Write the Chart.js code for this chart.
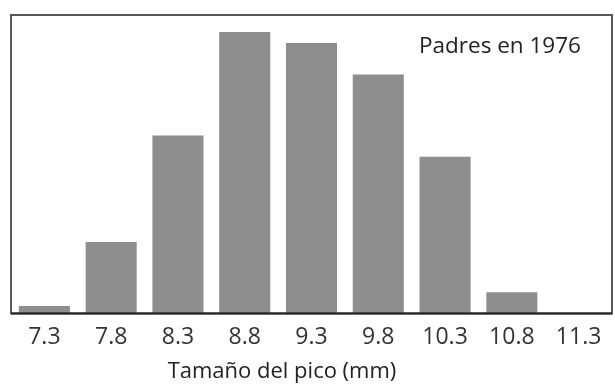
<!DOCTYPE html>
<html>
<head>
<meta charset="utf-8">
<script src="https://cdn.jsdelivr.net/npm/chart.js@4"></script>
<style>
  html, body { margin: 0; padding: 0; background: #fff; }
  #wrap { width: 615px; height: 386px; }
</style>
</head>
<body>
<div id="wrap"><canvas id="picoChart" width="615" height="386"></canvas></div>
<script>
const categorias = ["7.3", "7.8", "8.3", "8.8", "9.3", "9.8", "10.3", "10.8", "11.3"];
const frecuencias = [0.25, 2.39, 5.96, 9.43, 9.06, 8.01, 5.25, 0.71, 0];
const tituloEje = "Tamaño del pico (mm)";
const etiqueta = "Padres en 1976";

const fuente = "'Open Sans', 'DejaVu Sans', sans-serif";

// marco del area de graficos y textos
const marcoPlugin = {
  id: "marco",
  afterDraw(chart) {
    const { ctx, chartArea: a } = chart;
    ctx.save();
    ctx.strokeStyle = "#585858";
    ctx.lineWidth = 2;
    ctx.strokeRect(a.left, a.top, a.right - a.left, a.bottom - a.top);
    ctx.strokeStyle = "#222";
    ctx.beginPath();
    ctx.moveTo(a.left, a.bottom);
    ctx.lineTo(a.right, a.bottom);
    ctx.stroke();

    ctx.fillStyle = "#222";
    ctx.font = "22.5px " + fuente;
    ctx.textAlign = "left";
    ctx.textBaseline = "alphabetic";
    ctx.fillText(etiqueta, 419, 53);

    ctx.font = "22px " + fuente;
    ctx.textAlign = "center";
    ctx.fillText(tituloEje, 282, 378);
    ctx.restore();
  }
};

new Chart(document.getElementById("picoChart").getContext("2d"), {
  type: "bar",
  data: {
    labels: categorias,
    datasets: [{
      data: frecuencias,
      backgroundColor: "#8e8e8e",
      borderWidth: 0,
      categoryPercentage: 1,
      barPercentage: 0.765
    }]
  },
  options: {
    responsive: false,
    animation: false,
    layout: { padding: { left: 11, right: 3, top: 15, bottom: 25 } },
    plugins: { legend: { display: false }, tooltip: { enabled: false } },
    scales: {
      x: {
        grid: { display: false, drawTicks: false },
        border: { display: false },
        ticks: { color: "#333", font: { family: fuente, size: 23 }, padding: 10, maxRotation: 0 }
      },
      y: { display: false, min: 0, max: 10 }
    }
  },
  plugins: [marcoPlugin]
});
</script>
</body>
</html>
